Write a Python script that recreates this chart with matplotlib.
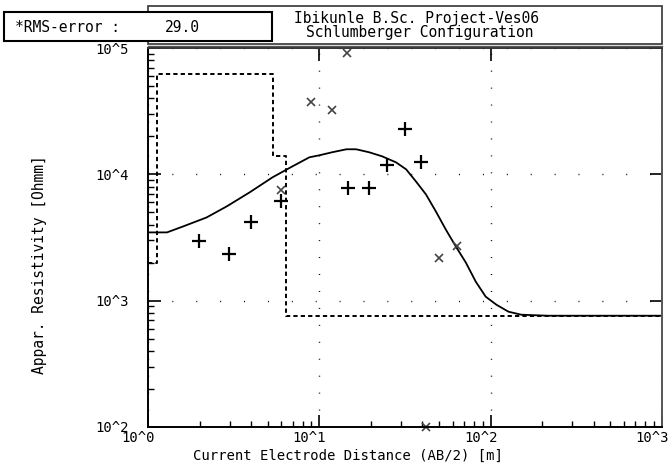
import matplotlib
matplotlib.use('Agg')
import matplotlib.pyplot as plt
import matplotlib.patches as patches
import matplotlib.transforms as mtransforms
import numpy as np

# layered model (dashed step line)
layer_depth = [1.0, 1.13, 5.4, 6.4, 1000]
layer_rho = [2000, 62000, 13900, 760, 760]

# calculated curve
curve_ab = [1.0, 1.29, 1.60, 2.20, 2.88, 3.92, 5.33, 6.97, 8.75, 10,
            11.9, 14.4, 16.4, 19.5, 23.2, 28.0, 32.1, 36.6, 41.9, 47.9, 54.7,
            62.6, 71.6, 81.8, 93.5, 108, 127, 151, 217, 1000]
curve_rho = [3470, 3470, 3865, 4560, 5575, 7200, 9470, 11570, 13640, 14150,
             14960, 15790, 15790, 14960, 13900, 12450, 10960, 8800, 6940, 5080, 3660,
             2685, 2005, 1416, 1076, 929, 818, 774, 760, 760]

# field data
plus_ab = [1.98, 2.96, 3.97, 6.01, 14.7, 19.5, 24.9, 31.6, 39.2]
plus_rho = [2940, 2320, 4160, 6110, 7740, 7740, 11780, 22770, 12450]
cross_ab = [14.5, 8.98, 11.9, 6.01, 49.9, 63.4, 41.9]
cross_rho = [91300, 37300, 32200, 7460, 2190, 2685, 100]

xtick_vals = [1, 10, 100, 1000]
xtick_labels = ['10^0', '10^1', '10^2', '10^3']
ytick_vals = [100, 1000, 10000, 100000]
ytick_labels = ['10^2', '10^3', '10^4', '10^5']

W, H = 670, 471
mono = 'DejaVu Sans Mono'
plt.rcParams['font.family'] = mono


def px(x, y):
    return x / W, 1 - y / H


fig = plt.figure(figsize=(W / 100, H / 100), dpi=100)
ax = fig.add_axes([148 / W, 1 - 427 / H, (662 - 148) / W, (427 - 48) / H])
ax.set_xscale('log')
ax.set_yscale('log')
ax.set_xlim(1, 1000)
ax.set_ylim(100, 100000)

ax.step(layer_depth, layer_rho, where='post', color='black', lw=1.4,
        linestyle=(0, (2.2, 1.6)))
ax.plot(curve_ab, curve_rho, color='black', lw=1.3)
ax.plot(plus_ab, plus_rho, '+', color='black', ms=10, mew=1.6, linestyle='none')
ax.plot(cross_ab, cross_rho, 'x', color='#444444', ms=6, mew=1.2,
        linestyle='none', clip_on=False)

ax.set_xticks(xtick_vals)
ax.set_xticklabels(xtick_labels, fontsize=10)
ax.set_yticks(ytick_vals)
ax.set_yticklabels(ytick_labels, fontsize=10)
ax.tick_params(which='major', direction='in', length=9, width=1.2,
               top=True, right=True)
ax.tick_params(which='minor', direction='in', length=4, width=1,
               top=False, right=False)
ax.tick_params(axis='x', pad=3)
ax.tick_params(axis='y', pad=14)
ax.yaxis.set_minor_locator(matplotlib.ticker.LogLocator(subs=np.arange(2, 10)))
ax.yaxis.set_minor_formatter(matplotlib.ticker.NullFormatter())
ax.xaxis.set_minor_formatter(matplotlib.ticker.NullFormatter())

off = mtransforms.ScaledTranslation(-10 / 100, 0, fig.dpi_scale_trans)
for lbl in ax.get_xticklabels():
    lbl.set_transform(lbl.get_transform() + off)

ax.grid(axis='x', which='major', color='black', lw=1.0, linestyle=(0, (0.7, 11.5)))
ax.grid(axis='y', which='major', color='black', lw=1.0, linestyle=(0, (0.7, 16.5)))
for s in ax.spines.values():
    s.set_linewidth(1.4)
ax.spines['top'].set_color('#333333')
ax.spines['right'].set_color('#555555')

fig.text(*px(348, 456), 'Current Electrode Distance (AB/2) [m]',
         ha='center', va='center', fontsize=10)
fig.text(*px(40, 265), 'Appar. Resistivity [Ohmm]', rotation=90,
         ha='center', va='center', fontsize=10.5)

# title box
x0, y0 = px(148, 44)
x1, y1 = px(662, 6)
fig.patches.append(patches.Rectangle((x0, y0), x1 - x0, y1 - y0, transform=fig.transFigure,
                                     fill=False, edgecolor='#333333', lw=1.2))
fig.lines.append(plt.Line2D([x0, x1], [px(0, 46)[1]] * 2, transform=fig.transFigure,
                            color='#555555', lw=1.0))
fig.text(*px(416, 18), 'Ibikunle B.Sc. Project-Ves06', ha='center', va='center',
         fontsize=10.5)
fig.text(*px(420, 32), 'Schlumberger Configuration', ha='center', va='center',
         fontsize=10.5)

# rms box
bx0, by0 = px(4, 41)
bx1, by1 = px(272, 12)
fig.patches.append(patches.Rectangle((bx0, by0), bx1 - bx0, by1 - by0,
                                     transform=fig.transFigure, facecolor='white',
                                     edgecolor='black', lw=1.5, zorder=5))
fig.text(*px(15, 27), '*RMS-error :', ha='left', va='center', fontsize=10.5, zorder=6)
fig.text(*px(165, 27), '29.0', ha='left', va='center', fontsize=10.5, zorder=6)

fig.savefig('out.png', dpi=100)
